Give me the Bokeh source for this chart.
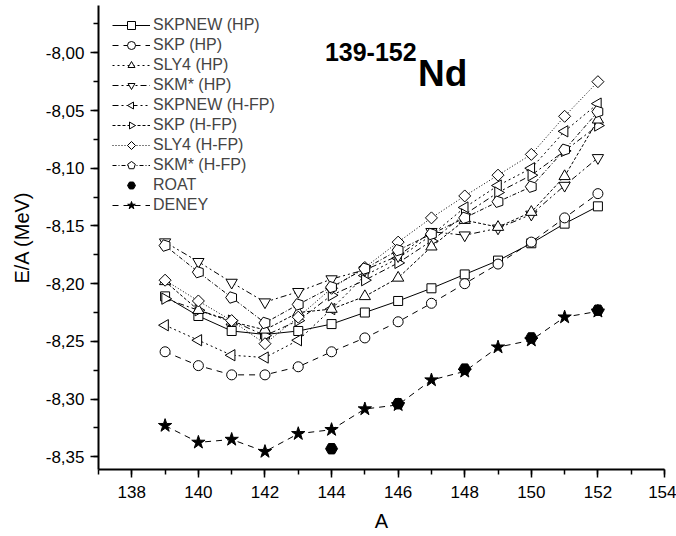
import math
from bokeh.plotting import figure
from bokeh.models import (Legend, LegendItem, SingleIntervalTicker, CustomJSTickFormatter,
                          Label, Range1d)
from bokeh.embed import file_html
from bokeh.resources import INLINE

# ---------------- data ----------------
A = [139, 140, 141, 142, 143, 144, 145, 146, 147, 148, 149, 150, 151, 152]
skpnew_hp = [-8.211, -8.228, -8.241, -8.244, -8.241, -8.235, -8.225, -8.215, -8.204, -8.192, -8.180, -8.165, -8.148, -8.133]
skp_hp = [-8.259, -8.271, -8.279, -8.279, -8.272, -8.259, -8.247, -8.233, -8.217, -8.200, -8.183, -8.164, -8.143, -8.122]
sly4_hp = [-8.236, -8.249, -8.262, -8.264, -8.249, -8.222, -8.193, -8.178, -8.158, -8.134, -8.115, -8.100, -8.068, -8.044]
skm_hp = [-8.213, -8.223, -8.232, -8.245, -8.232, -8.210, -8.197, -8.182, -8.163, -8.140, -8.121, -8.106, -8.085, -8.063]
skpnew_hfp = [-8.164, -8.181, -8.199, -8.216, -8.207, -8.196, -8.188, -8.176, -8.155, -8.158, -8.152, -8.140, -8.115, -8.091]
skp_hfp = [-8.198, -8.223, -8.233, -8.240, -8.225, -8.222, -8.211, -8.195, -8.168, -8.145, -8.151, -8.138, -8.107, -8.058]
sly4_hfp = [-8.197, -8.215, -8.232, -8.252, -8.229, -8.204, -8.186, -8.164, -8.143, -8.124, -8.106, -8.088, -8.055, -8.025]
skm_hfp = [-8.167, -8.190, -8.212, -8.234, -8.218, -8.203, -8.187, -8.171, -8.157, -8.143, -8.129, -8.116, -8.084, -8.051]
roat_A = [144, 146, 148, 150, 152]
roat = [-8.343, -8.304, -8.274, -8.247, -8.223]
deney = [-8.323, -8.3375, -8.335, -8.3455, -8.330, -8.3265, -8.3086, -8.305, -8.2835, -8.276, -8.255, -8.249, -8.229, -8.224]

FONT = "Liberation Sans"
NAN = float("nan")

p = figure(width=676, height=536, output_backend="svg", toolbar_location=None,
           x_range=Range1d(137, 154), y_range=Range1d(-8.361, -7.959),
           min_border_left=98, min_border_right=12, min_border_top=5, min_border_bottom=67)
p.background_fill_color = "white"
p.border_fill_color = "white"
p.outline_line_color = None
p.grid.visible = False

# axes
p.xaxis.ticker = SingleIntervalTicker(interval=2, num_minor_ticks=2)
p.yaxis.ticker = SingleIntervalTicker(interval=0.05, num_minor_ticks=2)
p.yaxis.formatter = CustomJSTickFormatter(code="return tick.toFixed(2).replace('.', ',');")
for ax in (p.xaxis, p.yaxis):
    ax.axis_line_width = 2
    ax.major_tick_line_width = 1.5
    ax.minor_tick_line_width = 1.5
    ax.major_tick_out = 8
    ax.major_tick_in = 0
    ax.minor_tick_out = 5
    ax.minor_tick_in = 0
    ax.major_label_text_font = FONT
    ax.major_label_text_font_size = "17px"
    ax.major_label_text_color = "black"
    ax.axis_label_text_font = FONT
    ax.axis_label_text_font_size = "20px"
    ax.axis_label_text_font_style = "normal"
    ax.axis_label_text_color = "black"
p.xaxis.axis_label = "A"
p.yaxis.axis_label = "E/A (MeV)"
p.xaxis.major_label_standoff = 8
p.yaxis.major_label_standoff = 6
p.xaxis.axis_label_standoff = 9
p.yaxis.axis_label_standoff = 10

items = []

def marker_series(label, xs, ys, marker, dash, size, fill="white", draw_line=True):
    lr = p.line(xs if draw_line else [], ys if draw_line else [], line_color="black",
                line_width=1, line_dash=dash)
    sr = p.scatter(xs, ys, marker=marker, size=size, fill_color=fill,
                   line_color="black", line_width=1)
    items.append(LegendItem(label=label, renderers=[lr, sr]))

def ngon_series(label, xs, ys, dash, n, angle, radius):
    lr = p.line(xs, ys, line_color="black", line_width=1, line_dash=dash)
    p.ngon(x=xs, y=ys, radius=radius, radius_units="screen", n=n, angle=angle,
           fill_color="white", line_color="black", line_width=1)
    # legend-only swatch (not drawn in the plot); the legend turns ngons by a quarter turn
    leg = p.ngon(x=[NAN], y=[NAN], radius=radius, radius_units="screen", n=n,
                 angle=angle - math.pi / 2,
                 fill_color="white", line_color="black", line_width=1)
    items.append(LegendItem(label=label, renderers=[lr, leg]))

marker_series("SKPNEW (HP)", A, skpnew_hp, "square", "solid", 9)
marker_series("SKP (HP)", A, skp_hp, "circle", "6 5", 10)
ngon_series("SLY4 (HP)", A, sly4_hp, "2 3", 3, math.pi / 2, 6.5)
ngon_series("SKM* (HP)", A, skm_hp, "6 3 2 3", 3, -math.pi / 2, 6.5)
ngon_series("SKPNEW (H-FP)", A, skpnew_hfp, "6 3 2 3 2 3", 3, math.pi, 6.5)
ngon_series("SKP (H-FP)", A, skp_hfp, "3 2", 3, 0.0, 6.5)
ngon_series("SLY4 (H-FP)", A, sly4_hfp, "1 2", 4, 0.0, 6)
ngon_series("SKM* (H-FP)", A, skm_hfp, "4 2 1 2", 5, math.pi / 2, 6)
marker_series("ROAT", roat_A, roat, "hex", "solid", 12, fill="black", draw_line=False)
marker_series("DENEY", A, deney, "star", "6 5", 14, fill="black")

legend = Legend(items=items, location=(14, 254), padding=0, margin=0, spacing=0,
                glyph_width=38, glyph_height=20, label_height=20, label_standoff=3,
                label_text_font=FONT, label_text_font_size="16px",
                border_line_color=None, background_fill_alpha=0)
p.add_layout(legend)

# title annotation
p.add_layout(Label(x=143.8, y=-7.999, text="139-152", text_font=FONT, text_font_size="25px",
                   text_font_style="bold", text_color="black", text_baseline="alphabetic"))
p.add_layout(Label(x=146.6, y=-8.018, text="Nd", text_font=FONT, text_font_size="37px",
                   text_font_style="bold", text_color="black", text_baseline="alphabetic"))

open("out.html", "w").write(file_html(p, INLINE))
